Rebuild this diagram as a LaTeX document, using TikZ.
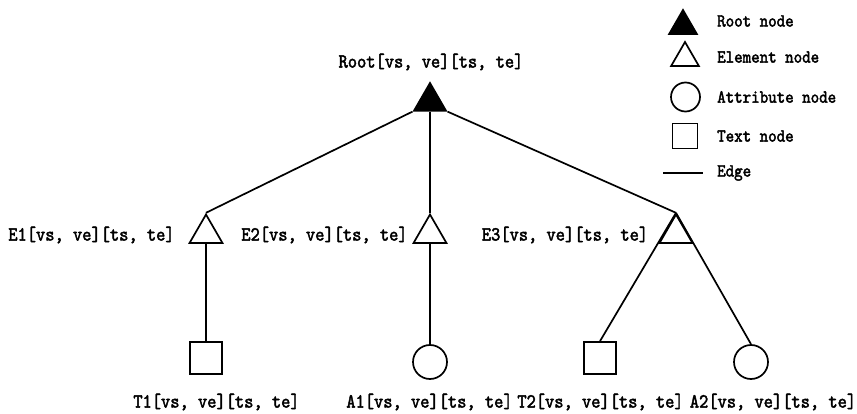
\documentclass[tikz,border=0pt]{standalone}
\usepackage{fontspec}
\newfontfamily\lblfont{lmmono10-regular.otf}[FakeBold=2.2, FakeStretch=0.88]
\usetikzlibrary{shapes.geometric}
\tikzset{
  edge/.style={line width=1.7pt},
  tri/.style={regular polygon, regular polygon sides=3, draw, line width=1.7pt,
    inner sep=0pt, minimum size=#1},
  rootnode/.style={tri=#1, fill=black},
  elemnode/.style={tri=#1, fill=white},
  attrnode/.style={circle, draw, line width=1.7pt, inner sep=0pt, minimum size=#1},
  textnode/.style={rectangle, draw, line width=1.7pt, inner sep=0pt, minimum size=#1},
  lbl/.style={font=\lblfont\fontsize{20}{22}\selectfont, inner sep=0pt},
  leg/.style={font=\lblfont\fontsize{18.4}{20}\selectfont, inner sep=0pt, anchor=west},
}
\begin{document}
\begin{tikzpicture}[x=1pt, y=-1pt]
\useasboundingbox (0,0) rectangle (857,414);

% tree nodes
\node[rootnode=37] (root) at (430,101.5) {};
\node[elemnode=38] (e1) at (206,233.5) {};
\node[elemnode=38] (e2) at (430,233.5) {};
\node[elemnode=38] (e3) at (676,233.5) {};
\node[textnode=32] (t1) at (206,358) {};
\node[attrnode=34] (a1) at (430,362) {};
\node[textnode=32] (t2) at (600,358) {};
\node[attrnode=34] (a2) at (751,362) {};

% edges
\draw[edge] (root.corner 2) -- (e1.north);
\draw[edge] (root.south) -- (e2.north);
\draw[edge] (root.corner 3) -- (e3.north);
\draw[edge] (e1.south) -- (t1.north);
\draw[edge] (e2.south) -- (a1.north);
\draw[edge] (e3.north) -- (t2.north);
\draw[edge] (e3.north) -- (a2.north);

% labels
\node[lbl] (lroot) at (431,62) {Root[vs, ve][ts, te]};
\node[lbl] (le1) at (91.5,235) {E1[vs, ve][ts, te]};
\node[lbl] (le2) at (324.5,235) {E2[vs, ve][ts, te]};
\node[lbl] (le3) at (565,235) {E3[vs, ve][ts, te]};
\node[lbl] (lt1) at (216.5,402) {T1[vs, ve][ts, te]};
\node[lbl] (la1) at (429.5,402) {A1[vs, ve][ts, te]};
\node[lbl] (lt2) at (600.5,402) {T2[vs, ve][ts, te]};
\node[lbl] (la2) at (773,402) {A2[vs, ve][ts, te]};

% legend
\node[rootnode=32] (kroot) at (683,26) {};
\node[elemnode=32] (kelem) at (685,58) {};
\node[attrnode=29] (kattr) at (685.5,97) {};
\node[textnode=25] (ktext) at (685,136) {};
\coordinate (kedgea) at (663,173);
\coordinate (kedgeb) at (703,173);
\draw[edge] (kedgea) -- (kedgeb);

\node[leg] (troot) at (717,21) {Root node};
\node[leg] (telem) at (717,57) {Element node};
\node[leg] (tattr) at (717,97) {Attribute node};
\node[leg] (ttext) at (717,136) {Text node};
\node[leg] (tedge) at (717,173) {Edge};
\end{tikzpicture}
\end{document}
